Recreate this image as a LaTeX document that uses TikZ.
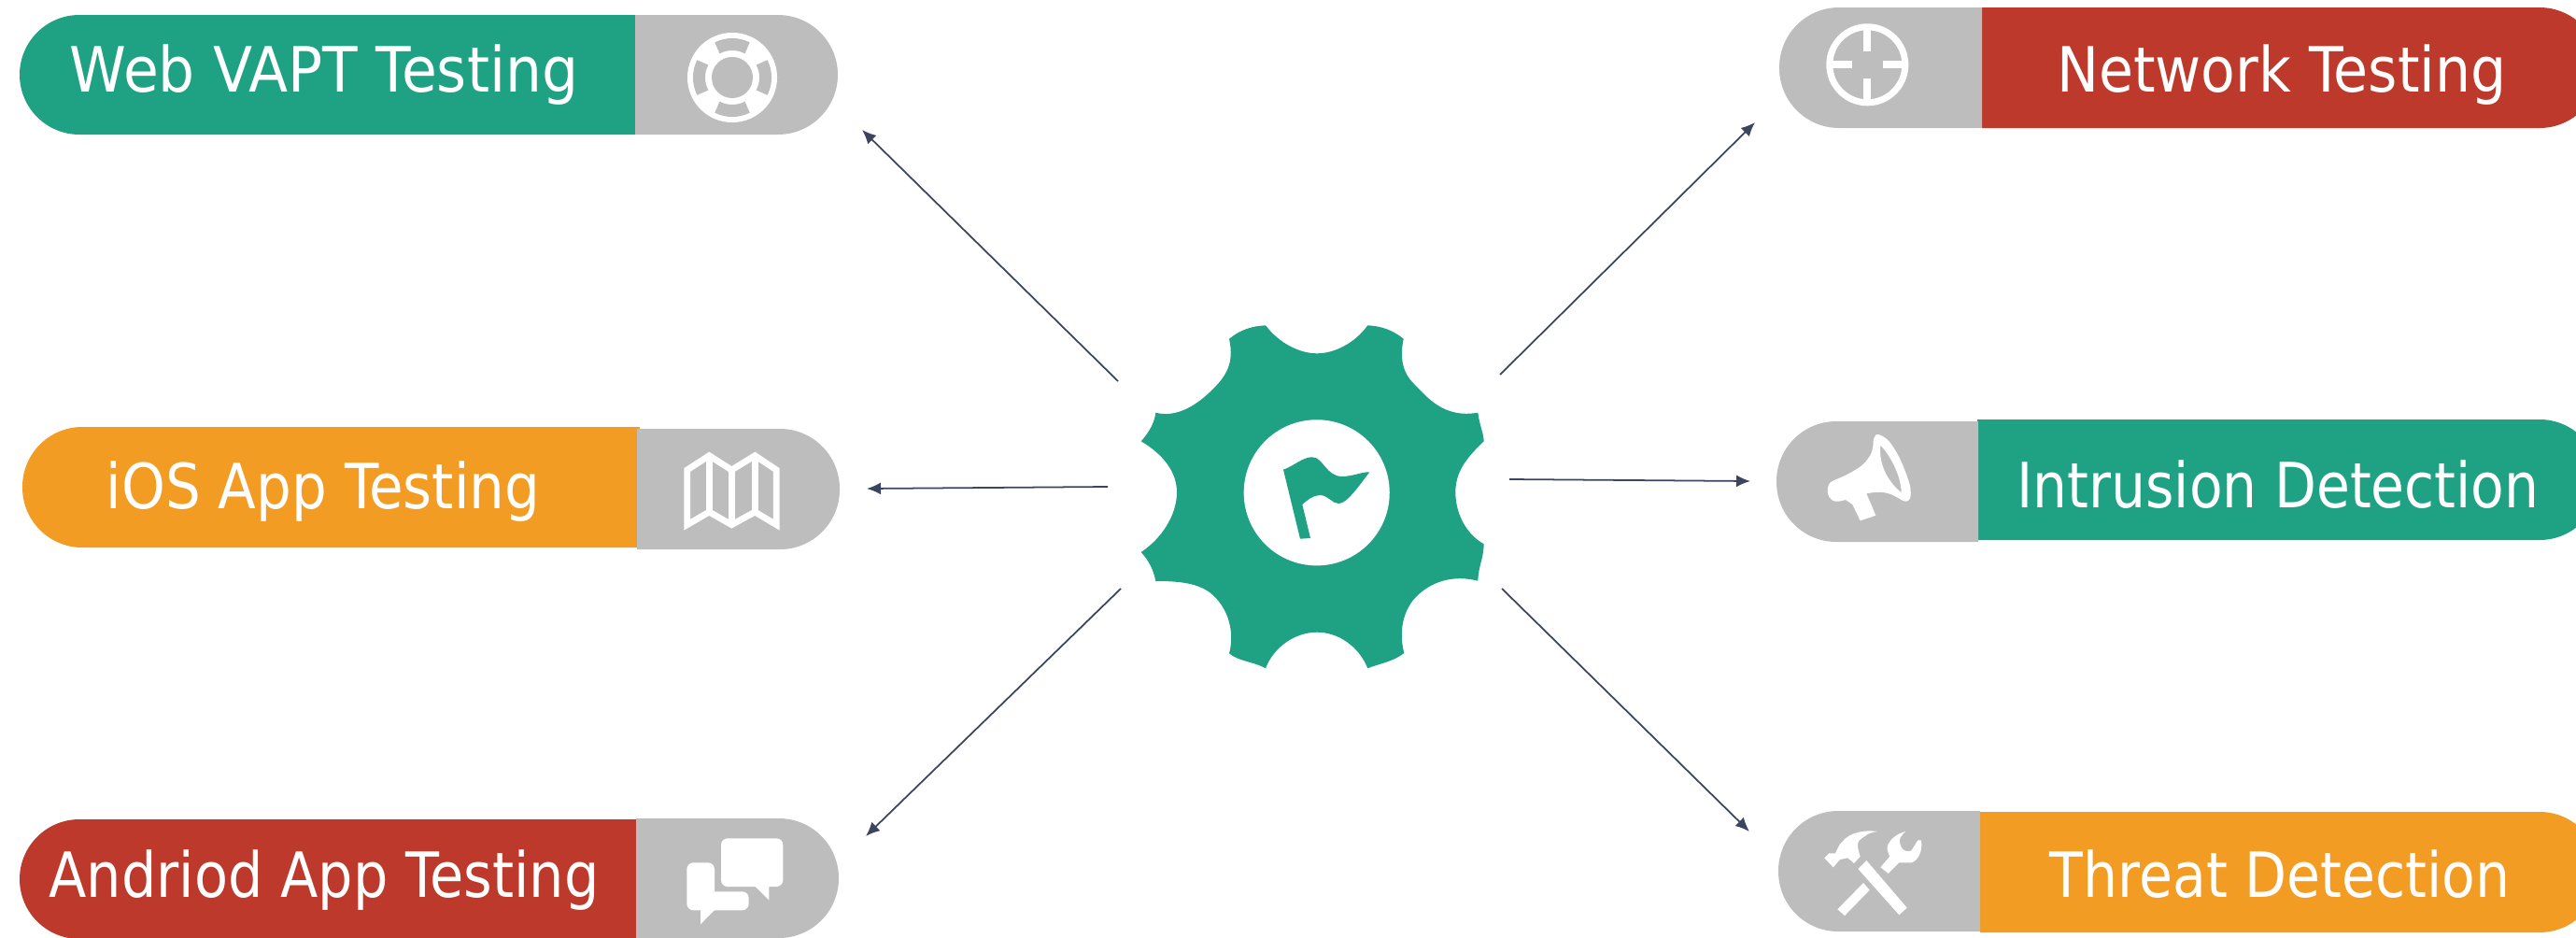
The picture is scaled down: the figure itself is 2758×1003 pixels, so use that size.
\documentclass[tikz,border=0pt]{standalone}
\usepackage{fontspec}
\usetikzlibrary{arrows.meta}
\setmainfont{DejaVu Sans}[FakeStretch=0.9]
\definecolor{tealbar}{HTML}{1FA184}
\definecolor{orangebar}{HTML}{F39C24}
\definecolor{redbar}{HTML}{BC392B}
\definecolor{capgrey}{HTML}{BDBDBD}
\definecolor{linkline}{HTML}{3B4560}
\tikzset{
    barlabel/.style={anchor=base, inner sep=0pt, text=white, transform shape, font=\fontsize{19}{22}\selectfont},
    capcorner/.style={rounded corners=0.64cm},
    link/.style={-{Latex[length=0.15cm, width=0.13cm]}, draw=linkline, line width=0.5pt},
    iconline/.style={draw=white, line width=0.068cm, line join=miter},
    buoycut/.style={draw=capgrey, line width=0.13cm}
}
\begin{document}
\begin{tikzpicture}[x=0.01cm, y=-0.01cm]

        \useasboundingbox (0, 0) rectangle (2758, 1003);
        \clip (0, 0) rectangle (2758, 1003);

        % left column
        \fill [tealbar] (680, 16) [capcorner] -- (21, 16) -- (21, 144) [sharp corners] -- (680, 144) -- cycle;
        \fill [capgrey] (680, 16) [capcorner] -- (897, 16) -- (897, 144) [sharp corners] -- (680, 144) -- cycle;
        \node (weblabel) at (347, 98) [barlabel, xscale=1.023] {Web VAPT Testing};

        \fill [orangebar] (685, 457) [capcorner] -- (24, 457) -- (24, 586) [sharp corners] -- (685, 586) -- cycle;
        \fill [capgrey] (682, 459) [capcorner] -- (899, 459) -- (899, 588) [sharp corners] -- (682, 588) -- cycle;
        \node (ioslabel) at (346, 544) [barlabel, xscale=0.99] {iOS App Testing};

        \fill [redbar] (681, 877) [capcorner] -- (21, 877) -- (21, 1005) [sharp corners] -- (681, 1005) -- cycle;
        \fill [capgrey] (681, 876) [capcorner] -- (898, 876) -- (898, 1004) [sharp corners] -- (681, 1004) -- cycle;
        \node (androidlabel) at (347, 960) [barlabel, xscale=0.98] {Andriod App Testing};

        % right column
        \fill [redbar] (2122, 8) [capcorner] -- (2783, 8) -- (2783, 137) [sharp corners] -- (2122, 137) -- cycle;
        \fill [capgrey] (2122, 8) [capcorner] -- (1905, 8) -- (1905, 137) [sharp corners] -- (2122, 137) -- cycle;
        \node (networklabel) at (2443, 98) [barlabel] {Network Testing};

        \fill [tealbar] (2117, 449) [capcorner] -- (2783, 449) -- (2783, 578) [sharp corners] -- (2117, 578) -- cycle;
        \fill [capgrey] (2118, 451) [capcorner] -- (1902, 451) -- (1902, 580) [sharp corners] -- (2118, 580) -- cycle;
        \node (intrusionlabel) at (2439, 543) [barlabel, xscale=0.97] {Intrusion Detection};

        \fill [orangebar] (2120, 869) [capcorner] -- (2783, 869) -- (2783, 998) [sharp corners] -- (2120, 998) -- cycle;
        \fill [capgrey] (2120, 868) [capcorner] -- (1904, 868) -- (1904, 997) [sharp corners] -- (2120, 997) -- cycle;
        \node (threatlabel) at (2441, 960) [barlabel, xscale=0.972] {Threat Detection};

        % lifebuoy
        \fill [white] (784, 83) circle [radius=0.48cm];
        \fill [capgrey] (784, 83) circle [radius=0.22cm];
        \draw [buoycut] (784, 83) ++(63:0.355cm) arc [start angle=63, end angle=117, radius=0.355cm];
        \draw [buoycut] (784, 83) ++(153:0.355cm) arc [start angle=153, end angle=207, radius=0.355cm];
        \draw [buoycut] (784, 83) ++(243:0.355cm) arc [start angle=243, end angle=297, radius=0.355cm];
        \draw [buoycut] (784, 83) ++(333:0.355cm) arc [start angle=333, end angle=387, radius=0.355cm];

        % map
        \draw [iconline] (735.7, 503) -- (759.3, 487.7) -- (783.3, 503) -- (808.3, 487.7) -- (831.3, 503)
            -- (831.3, 561.7) -- (808.3, 548) -- (783.3, 561.7) -- (759.3, 548) -- (735.7, 561.7) -- cycle;
        \draw [iconline] (759.3, 487.7) -- (759.3, 548);
        \draw [iconline] (783.3, 503) -- (783.3, 561.7);
        \draw [iconline] (808.3, 487.7) -- (808.3, 548);

        % speech bubbles
        \fill [white, rounded corners=0.07cm] (772, 897.3) rectangle (838.3, 949);
        \fill [white] (807.7, 948) -- (823.3, 948) -- (823.3, 963.3) -- cycle;
        \fill [white, rounded corners=0.07cm] (735.3, 923.3) -- (765, 923.3) [sharp corners] -- (765, 954.3) [rounded corners=0.07cm] -- (801.7, 954.3) -- (801.7, 974.3) -- (735.3, 974.3) -- cycle;
        \fill [white] (750, 973) -- (766, 973) -- (750, 989.3) -- cycle;

        % crosshair
        \draw [white, line width=0.07cm] (1999.3, 69.3) circle [radius=0.405cm];
        \draw [white, line width=0.077cm] (1999.3, 29) -- (1999.3, 55);
        \draw [white, line width=0.077cm] (1999.3, 110) -- (1999.3, 84);
        \draw [white, line width=0.077cm] (1959, 69.3) -- (1983, 69.3);
        \draw [white, line width=0.077cm] (2040, 69.3) -- (2016, 69.3);

        % megaphone
        \fill [white, even odd rule] (1956.7, 525) .. controls (1957, 520) and (1958, 517) .. (1961.7, 515)
            .. controls (1968, 512) and (1974, 510) .. (1980, 506.7)
            .. controls (1990, 501) and (1993, 499) .. (1996.7, 495)
            .. controls (2002, 489) and (2004, 485) .. (2005, 480)
            .. controls (2006, 475) and (2005, 470) .. (2006.7, 468.3)
            .. controls (2008, 465) and (2010, 464) .. (2011.7, 465)
            .. controls (2016, 467) and (2020, 469) .. (2023.3, 473.3)
            .. controls (2029, 481) and (2033, 488) .. (2036.7, 496.7)
            .. controls (2041, 507) and (2043, 513) .. (2045, 520)
            .. controls (2046, 526) and (2046, 530) .. (2045, 533.3)
            .. controls (2044, 536) and (2042, 537) .. (2040, 536.7)
            .. controls (2036, 536) and (2033, 533) .. (2030, 531.7)
            .. controls (2025, 529) and (2022, 528) .. (2018.3, 527.3)
            .. controls (2012, 526) and (2005, 527) .. (1998.3, 528.3)
            -- (2008.3, 551.7) -- (1991.7, 557.3) -- (1983.3, 540) -- (1976, 535)
            .. controls (1972, 536) and (1969, 537) .. (1965, 536.7)
            .. controls (1960, 536) and (1956, 530) .. (1956.7, 525) -- cycle
            (2013.3, 476.7) .. controls (2020, 483) and (2035, 505) .. (2035.7, 527.3)
            .. controls (2024, 518) and (2011, 500) .. (2013.3, 476.7) -- cycle;

        % hammer and wrench
        \fill [white] (1967.3, 973.3) -- (1995, 945) -- (2001.7, 952.7) -- (1975, 980) -- cycle;
        \fill [white] (2013.3, 928.3) -- (2023.3, 916.7) .. controls (2020, 910) and (2020, 907) .. (2021.7, 903.3)
            .. controls (2025, 897) and (2032, 892) .. (2040, 890)
            .. controls (2035, 895) and (2033, 898) .. (2034, 901.7)
            .. controls (2035, 907) and (2037, 909) .. (2038.3, 910)
            .. controls (2043, 912) and (2046, 911) .. (2046.7, 910)
            -- (2053.3, 899.3) -- (2056.7, 899.3)
            .. controls (2058, 905) and (2057, 910) .. (2055.7, 913.3)
            .. controls (2053, 920) and (2050, 922) .. (2046.7, 923.3)
            -- (2033.3, 923.3) -- (2021.7, 935) -- cycle;
        \fill [white] (1989.3, 930) -- (1998.3, 921) -- (2041.7, 971.7) -- (2033.3, 979.3) -- cycle;
        \fill [white] (1953.3, 918.3) -- (1958.3, 913.3) -- (1965, 913.3)
            .. controls (1968, 907) and (1969, 904) .. (1971.7, 901.7)
            .. controls (1976, 896) and (1982, 893) .. (1986.7, 891.7)
            .. controls (1995, 889) and (2003, 889) .. (2010, 890)
            .. controls (2004, 891) and (2000, 892) .. (1996.7, 895)
            .. controls (1992, 898) and (1989, 900) .. (1989, 904)
            .. controls (1989, 908) and (1990, 912) .. (1991.7, 916.7)
            -- (1985, 924) -- (1978.3, 918.3) -- (1970, 920) -- (1962.7, 928.3) -- cycle;

        % gear
        \fill [tealbar] (1355, 348.3) .. controls (1370, 368) and (1392, 378.3) .. (1410, 378.3)
            .. controls (1428, 378.3) and (1450, 368) .. (1464.3, 348.3)
            .. controls (1480, 349) and (1492, 354) .. (1502.7, 362.7)
            .. controls (1498, 385) and (1503, 400) .. (1513, 410)
            .. controls (1528, 425) and (1545, 448) .. (1582.3, 441.7)
            .. controls (1584, 455) and (1588, 462) .. (1588.7, 472.3)
            .. controls (1570, 490) and (1558.3, 505) .. (1558.3, 526.7)
            .. controls (1558.3, 550) and (1570, 572) .. (1588.7, 582.3)
            .. controls (1588, 600) and (1583, 605) .. (1582.3, 621.7)
            .. controls (1556, 615) and (1532, 622) .. (1515, 640)
            .. controls (1503, 653) and (1497, 675) .. (1503.3, 699)
            .. controls (1492, 708) and (1478, 710) .. (1464.3, 715.3)
            .. controls (1455, 692) and (1433, 676.7) .. (1410, 676.7)
            .. controls (1387, 676.7) and (1364, 692) .. (1355, 715.3)
            .. controls (1342, 708) and (1326, 708) .. (1316, 699.3)
            .. controls (1322, 678) and (1316, 650) .. (1295, 634)
            .. controls (1280, 623) and (1258, 622) .. (1237.3, 622)
            .. controls (1235, 610) and (1230, 600) .. (1221.7, 591)
            .. controls (1243, 577) and (1260, 552) .. (1260, 526.7)
            .. controls (1260, 505) and (1245, 486) .. (1221.7, 472.3)
            .. controls (1230, 463) and (1236, 453) .. (1237.3, 441.7)
            .. controls (1258, 447) and (1278, 436) .. (1295, 420)
            .. controls (1312, 404) and (1322, 390) .. (1316, 362.7)
            .. controls (1328, 353) and (1340, 349) .. (1355, 348.3) -- cycle;
        \fill [white] (1409.7, 527.3) circle [radius=0.78cm];
        \fill [tealbar] (1374, 502.7) .. controls (1385, 499) and (1395, 489) .. (1405, 489.3)
            .. controls (1416, 489) and (1420, 510) .. (1436.7, 510)
            .. controls (1448, 510) and (1458, 505) .. (1466.3, 505.3)
            .. controls (1455, 520) and (1442, 539) .. (1433.3, 539)
            .. controls (1426, 539) and (1422, 530) .. (1413.3, 530)
            .. controls (1406, 530) and (1400, 535) .. (1394.3, 540)
            -- (1403, 576) -- (1392, 576.7) -- cycle;

        % arrows
        \coordinate (webtail) at (1197, 408);
        \coordinate (webhead) at (923, 139);
        \draw [link] (webtail) -- (webhead);

        \coordinate (iostail) at (1186, 521);
        \coordinate (ioshead) at (928, 523);
        \draw [link] (iostail) -- (ioshead);

        \coordinate (androidtail) at (1200, 630);
        \coordinate (androidhead) at (927, 895);
        \draw [link] (androidtail) -- (androidhead);

        \coordinate (networktail) at (1606, 401);
        \coordinate (networkhead) at (1879, 131);
        \draw [link] (networktail) -- (networkhead);

        \coordinate (intrusiontail) at (1616, 513);
        \coordinate (intrusionhead) at (1874, 515);
        \draw [link] (intrusiontail) -- (intrusionhead);

        \coordinate (threattail) at (1608, 630);
        \coordinate (threathead) at (1873, 890);
        \draw [link] (threattail) -- (threathead);

    \end{tikzpicture}
\end{document}
